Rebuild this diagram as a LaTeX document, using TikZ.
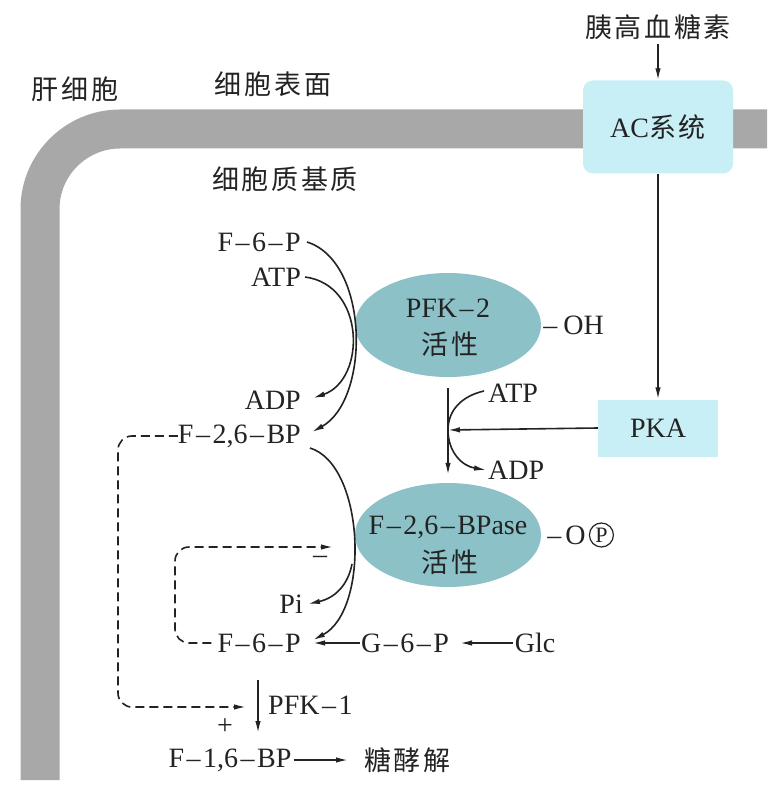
\documentclass[tikz,border=0pt]{standalone}
\usepackage{fontspec}
\setmainfont{Liberation Serif}
\newfontfamily\cjk[LetterSpace=10]{Noto Sans CJK SC}
\usetikzlibrary{arrows.meta,shapes.geometric}
\definecolor{bandc}{RGB}{168,168,168}
\definecolor{ellc}{RGB}{140,193,199}
\definecolor{boxc}{RGB}{200,238,246}
\definecolor{ink}{RGB}{35,35,35}
\newcommand\dd{\kern2.5pt\textendash\kern2.5pt}
\newcommand\lat{\fontsize{28}{30}\selectfont}
\newcommand\zh{\cjk\fontsize{27}{30}\selectfont}
\begin{document}
\begin{tikzpicture}[x=1pt,y=-1pt,
  every node/.style={text=ink},
  txt/.style={inner sep=0pt,font=\lat},
  zht/.style={inner sep=0pt,font=\zh},
  arr/.style={draw=ink,line width=1.6pt,-{Latex[length=12pt,width=5.5pt]}},
  dsh/.style={arr,dash pattern=on 9pt off 5pt},
  enz/.style={ellipse,fill=ellc,minimum width=186pt,minimum height=104pt,inner sep=0pt},
  boxn/.style={fill=boxc,inner sep=0pt}]
\useasboundingbox (0,0) rectangle (783,791);
\fill[white] (0,0) rectangle (783,791);
% membrane band
\draw[bandc,line width=39pt] (40,780) -- (40,209) .. controls (40,165) and (76,129) .. (120,129) -- (767,129);
% top labels
\node[zht] (gan) at (75,89) {肝细胞};
\node[zht] (surf) at (273,84) {细胞表面};
\node[zht] (cyto) at (285,179) {细胞质基质};
\node[zht] (glu) at (658,27) {胰高血糖素};
\node[boxn,rounded corners=10pt,minimum width=150pt,minimum height=93pt] (ac) at (658,127) {{\lat AC}{\zh 系统}};
\node[boxn,minimum width=120pt,minimum height=57pt] (pka) at (658,428) {\lat PKA};
\draw[arr,shorten <=4pt] (glu) -- (ac);
\draw[arr] (ac) -- (pka);
% enzymes
\node[enz] (pfk2) at (448,325) {};
\node[txt] (pfk2t) at (448,308) {PFK\dd2};
\node[zht] (pfk2h) at (450,344) {活性};
\node[txt,anchor=west] (oh) at ([xshift=2pt]pfk2.east) {\textendash\kern6pt OH};
\node[enz] (bpase) at (448,535) {};
\node[txt] (bpaset) at (448,527) {F\dd2,6\dd BPase};
\node[zht] (bpaseh) at (450,562) {活性};
\node[txt,anchor=west] (op) at ([xshift=6pt]bpase.east) {\textendash\kern4pt O};
\node[circle,draw=ink,line width=1.2pt,inner sep=0pt,minimum size=24pt,font=\fontsize{22}{22}\selectfont,anchor=west] (pc) at ([xshift=3pt]op.east) {P};
% left metabolites
\node[txt,anchor=east] (f6pa) at (301,242) {F\dd6\dd P};
\node[txt,anchor=east] (atpa) at (301,277) {ATP};
\node[txt,anchor=east] (adpa) at (301,400) {ADP};
\node[txt,anchor=east] (f26) at (301,436) {F\dd2,6\dd BP};
\node[txt,anchor=east] (pi) at (303,604) {Pi};
\node[txt,anchor=east] (f6pb) at (301,643) {F\dd6\dd P};
\node[txt] (g6p) at (405,643) {G\dd6\dd P};
\node[txt] (glc) at (535,643) {Glc};
\node[txt,anchor=west] (pfk1) at (268,705) {PFK\dd1};
\node[txt] (f16) at (230,760) {F\dd1,6\dd BP};
\node[zht,anchor=west] (gly) at (364,760) {糖酵解};
\node[txt,anchor=west] (atpb) at (488,393) {ATP};
\node[txt,anchor=west] (adpb) at (488,470) {ADP};
\node[txt] (plus) at (225,727) {+};
\node[txt] (minus) at (320,560) {\textendash};
% PFK-2 reaction
\draw[arr] ([xshift=6pt]f6pa.east) .. controls (370,262) and (370,400) .. ([xshift=11pt,yshift=4pt]f26.east);
\draw[arr] ([xshift=4pt]atpa.east) .. controls (366,285) and (366,380) .. ([xshift=12pt,yshift=2pt]adpa.east);
% BPase reaction
\draw[arr] ([xshift=9pt,yshift=-12pt]f26.east) .. controls (365,465) and (370,610) .. ([xshift=12pt,yshift=3pt]f6pb.east);
\coordinate (br) at (352,564);
\draw[arr] (br) .. controls (348,585) and (335,598) .. ([xshift=5pt]pi.east);
% PKA phosphorylation
\coordinate (jn) at (448,430);
\coordinate (vt) at (448,388);
\draw[arr,shorten >=8pt] (vt) -- (bpase.north);
\draw[arr] (pka.west) -- (jn);
\draw[arr] ([xshift=-4pt,yshift=2pt]atpb.west) .. controls (462,396) and (448,410) .. (jn) .. controls (448,452) and (462,466) .. ([xshift=-2pt]adpb.west);
% glycolysis chain
\draw[arr,shorten <=1pt,shorten >=12pt] (g6p.west) -- (f6pb.east);
\draw[arr,shorten <=2pt,shorten >=11pt] (glc.west) -- (g6p.east);
\coordinate (p1a) at (258,680);
\coordinate (p1b) at (258,733);
\draw[arr] (p1a) -- (p1b);
\draw[arr,shorten <=2pt,shorten >=16pt] (f16.east) -- (gly.west);
% dashed regulation
\coordinate (act) at (246,707);
\coordinate (inh) at (333,547);
\draw[dsh,rounded corners=14pt] (f26.west) -| (118,707) -- (act);
\draw[dsh,rounded corners=14pt] ([xshift=-6pt]f6pb.west) -| (175,547) -- (inh);
\end{tikzpicture}
\end{document}
